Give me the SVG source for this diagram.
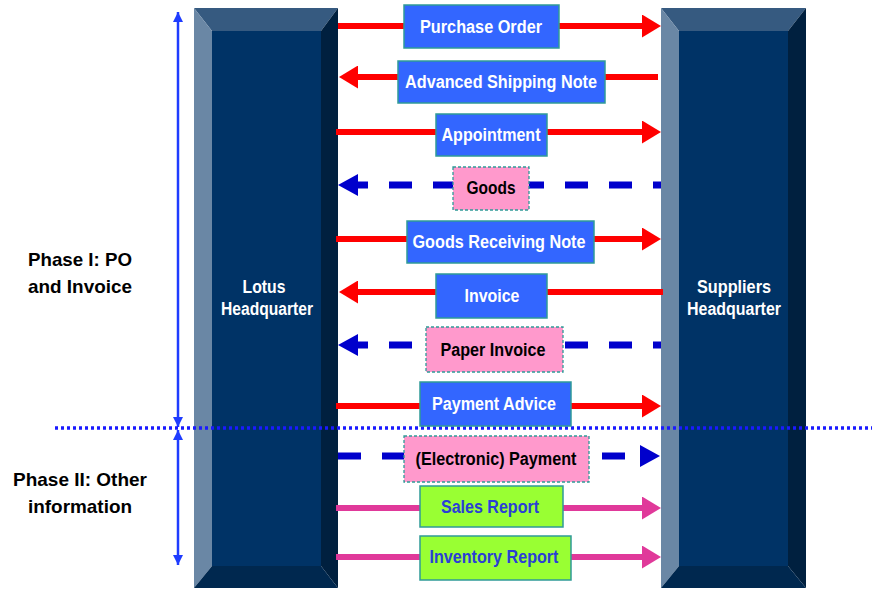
<svg xmlns="http://www.w3.org/2000/svg" width="872" height="590" viewBox="0 0 872 590">
<style>
.bg{fill:#ffffff}
.face{fill:#003366}
.btop{fill:#365a80}
.bleft{fill:#6a87a5}
.bright{fill:#00203f}
.bbot{fill:#00284f}
.plabel{font-family:"Liberation Sans",Arial,sans-serif;font-weight:bold;font-size:18px;fill:#ffffff;text-anchor:middle}
.phase{font-family:"Liberation Sans",Arial,sans-serif;font-weight:bold;font-size:19px;fill:#000000;text-anchor:middle}
.lbl{font-family:"Liberation Sans",Arial,sans-serif;font-weight:bold;font-size:18px;text-anchor:middle}
.bluebox{fill:#3366ff;stroke:#2f9a98;stroke-width:1.5}
.pinkbox{fill:#ff99cc;stroke:#2f9a98;stroke-width:1.3;stroke-dasharray:3 2}
.greenbox{fill:#99ff33;stroke:#2f9a98;stroke-width:1.5}
.wt{fill:#ffffff}
.bk{fill:#000000}
.bt{fill:#2a3fd6}
.red{stroke:#ff0000;stroke-width:6;fill:none}
.dash{stroke:#0000cc;stroke-width:7;fill:none;stroke-dasharray:23 21}
.mag{stroke:#e0399a;stroke-width:6;fill:none}
.vert{stroke:#1f3cff;stroke-width:2.5;fill:none}
.dots{stroke:#1a1aff;stroke-width:3.5;stroke-dasharray:3 3;fill:none}
</style>
<defs>
<marker id="hRed" markerUnits="userSpaceOnUse" markerWidth="19" markerHeight="23" refX="0" refY="11.5" orient="auto"><path d="M0,0 L19,11.5 L0,23 z" fill="#ff0000"/></marker>
<marker id="hBlue" markerUnits="userSpaceOnUse" markerWidth="20" markerHeight="22" refX="0" refY="11" orient="auto"><path d="M0,0 L20,11 L0,22 z" fill="#0000cc"/></marker>
<marker id="hMag" markerUnits="userSpaceOnUse" markerWidth="19" markerHeight="23" refX="0" refY="11.5" orient="auto"><path d="M0,0 L19,11.5 L0,23 z" fill="#e0399a"/></marker>
<marker id="hV" markerUnits="userSpaceOnUse" markerWidth="10" markerHeight="10" refX="10" refY="5" orient="auto"><path d="M0,0 L10,5 L0,10 z" fill="#1f3cff"/></marker>
</defs>
<rect class="bg" x="0" y="0" width="872" height="590"/>

<g id="lotus">
<polygon class="btop" points="194,8 338,8 321,31 212,31"/>
<polygon class="bleft" points="194,8 212,31 212,566 194,588"/>
<polygon class="bright" points="338,8 338,588 321,566 321,31"/>
<polygon class="bbot" points="194,588 212,566 321,566 338,588"/>
<rect class="face" x="212" y="31" width="109" height="535"/>
<text class="plabel" x="264" y="293" textLength="43" lengthAdjust="spacingAndGlyphs">Lotus</text>
<text class="plabel" x="267" y="315" textLength="92" lengthAdjust="spacingAndGlyphs">Headquarter</text>
</g>

<g id="suppliers">
<polygon class="btop" points="661,8 806,8 788,31 679,31"/>
<polygon class="bleft" points="661,8 679,31 679,566 661,588"/>
<polygon class="bright" points="806,8 806,588 788,566 788,31"/>
<polygon class="bbot" points="661,588 679,566 788,566 806,588"/>
<rect class="face" x="679" y="31" width="109" height="535"/>
<text class="plabel" x="734" y="293" textLength="74" lengthAdjust="spacingAndGlyphs">Suppliers</text>
<text class="plabel" x="734" y="315" textLength="94" lengthAdjust="spacingAndGlyphs">Headquarter</text>
</g>

<g id="phases">
<text class="phase" x="80" y="266" textLength="104" lengthAdjust="spacingAndGlyphs">Phase I: PO</text>
<text class="phase" x="80" y="293" textLength="104" lengthAdjust="spacingAndGlyphs">and Invoice</text>
<text class="phase" x="80" y="486" textLength="134" lengthAdjust="spacingAndGlyphs">Phase II: Other</text>
<text class="phase" x="80" y="513" textLength="104" lengthAdjust="spacingAndGlyphs">information</text>
</g>

<g id="connectors">
<line class="vert" x1="178" y1="220" x2="178" y2="12" marker-end="url(#hV)"/>
<line class="vert" x1="178" y1="220" x2="178" y2="427" marker-end="url(#hV)"/>
<line class="vert" x1="178" y1="500" x2="178" y2="430" marker-end="url(#hV)"/>
<line class="vert" x1="178" y1="500" x2="178" y2="565" marker-end="url(#hV)"/>
<line class="dots" x1="55" y1="428" x2="872" y2="428"/>
<line class="red" x1="338" y1="26" x2="642" y2="26" marker-end="url(#hRed)"/>
<line class="red" x1="658" y1="77" x2="358" y2="77" marker-end="url(#hRed)"/>
<line class="red" x1="336" y1="132" x2="642" y2="132" marker-end="url(#hRed)"/>
<line class="dash" x1="661" y1="185" x2="358" y2="185" stroke-dashoffset="15" marker-end="url(#hBlue)"/>
<line class="red" x1="336" y1="239" x2="642" y2="239" marker-end="url(#hRed)"/>
<line class="red" x1="663" y1="292" x2="358" y2="292" marker-end="url(#hRed)"/>
<line class="dash" x1="661" y1="345" x2="358" y2="345" stroke-dashoffset="15" marker-end="url(#hBlue)"/>
<line class="red" x1="336" y1="406" x2="642" y2="406" marker-end="url(#hRed)"/>
<line class="dash" x1="338" y1="456" x2="640" y2="456" marker-end="url(#hBlue)"/>
<line class="mag" x1="336" y1="508" x2="642" y2="508" marker-end="url(#hMag)"/>
<line class="mag" x1="336" y1="557" x2="642" y2="557" marker-end="url(#hMag)"/>
</g>

<g id="purchase-order"><rect class="bluebox" x="404" y="5" width="155" height="43"/><text class="lbl wt" x="481" y="33" textLength="122" lengthAdjust="spacingAndGlyphs">Purchase Order</text></g>
<g id="asn"><rect class="bluebox" x="398" y="61" width="207" height="42"/><text class="lbl wt" x="501" y="88" textLength="192" lengthAdjust="spacingAndGlyphs">Advanced Shipping Note</text></g>
<g id="appointment"><rect class="bluebox" x="436" y="114" width="111" height="42"/><text class="lbl wt" x="491" y="141" textLength="99" lengthAdjust="spacingAndGlyphs">Appointment</text></g>
<g id="goods"><rect class="pinkbox" x="453" y="167" width="76" height="43"/><text class="lbl bk" x="491" y="194" textLength="49" lengthAdjust="spacingAndGlyphs">Goods</text></g>
<g id="grn"><rect class="bluebox" x="407" y="221" width="187" height="42"/><text class="lbl wt" x="499" y="248" textLength="173" lengthAdjust="spacingAndGlyphs">Goods Receiving Note</text></g>
<g id="invoice"><rect class="bluebox" x="436" y="274" width="111" height="44"/><text class="lbl wt" x="492" y="302" textLength="55" lengthAdjust="spacingAndGlyphs">Invoice</text></g>
<g id="paper-invoice"><rect class="pinkbox" x="426" y="327" width="137" height="45"/><text class="lbl bk" x="493" y="356" textLength="105" lengthAdjust="spacingAndGlyphs">Paper Invoice</text></g>
<g id="payment-advice"><rect class="bluebox" x="420" y="382" width="151" height="44"/><text class="lbl wt" x="494" y="410" textLength="124" lengthAdjust="spacingAndGlyphs">Payment Advice</text></g>
<g id="electronic-payment"><rect class="pinkbox" x="404" y="436" width="185" height="46"/><text class="lbl bk" x="496" y="465" textLength="161" lengthAdjust="spacingAndGlyphs">(Electronic) Payment</text></g>
<g id="sales-report"><rect class="greenbox" x="420" y="486" width="143" height="41"/><text class="lbl bt" x="490" y="513" textLength="98" lengthAdjust="spacingAndGlyphs">Sales Report</text></g>
<g id="inventory-report"><rect class="greenbox" x="420" y="536" width="151" height="44"/><text class="lbl bt" x="494" y="563" textLength="129" lengthAdjust="spacingAndGlyphs">Inventory Report</text></g>
</svg>
